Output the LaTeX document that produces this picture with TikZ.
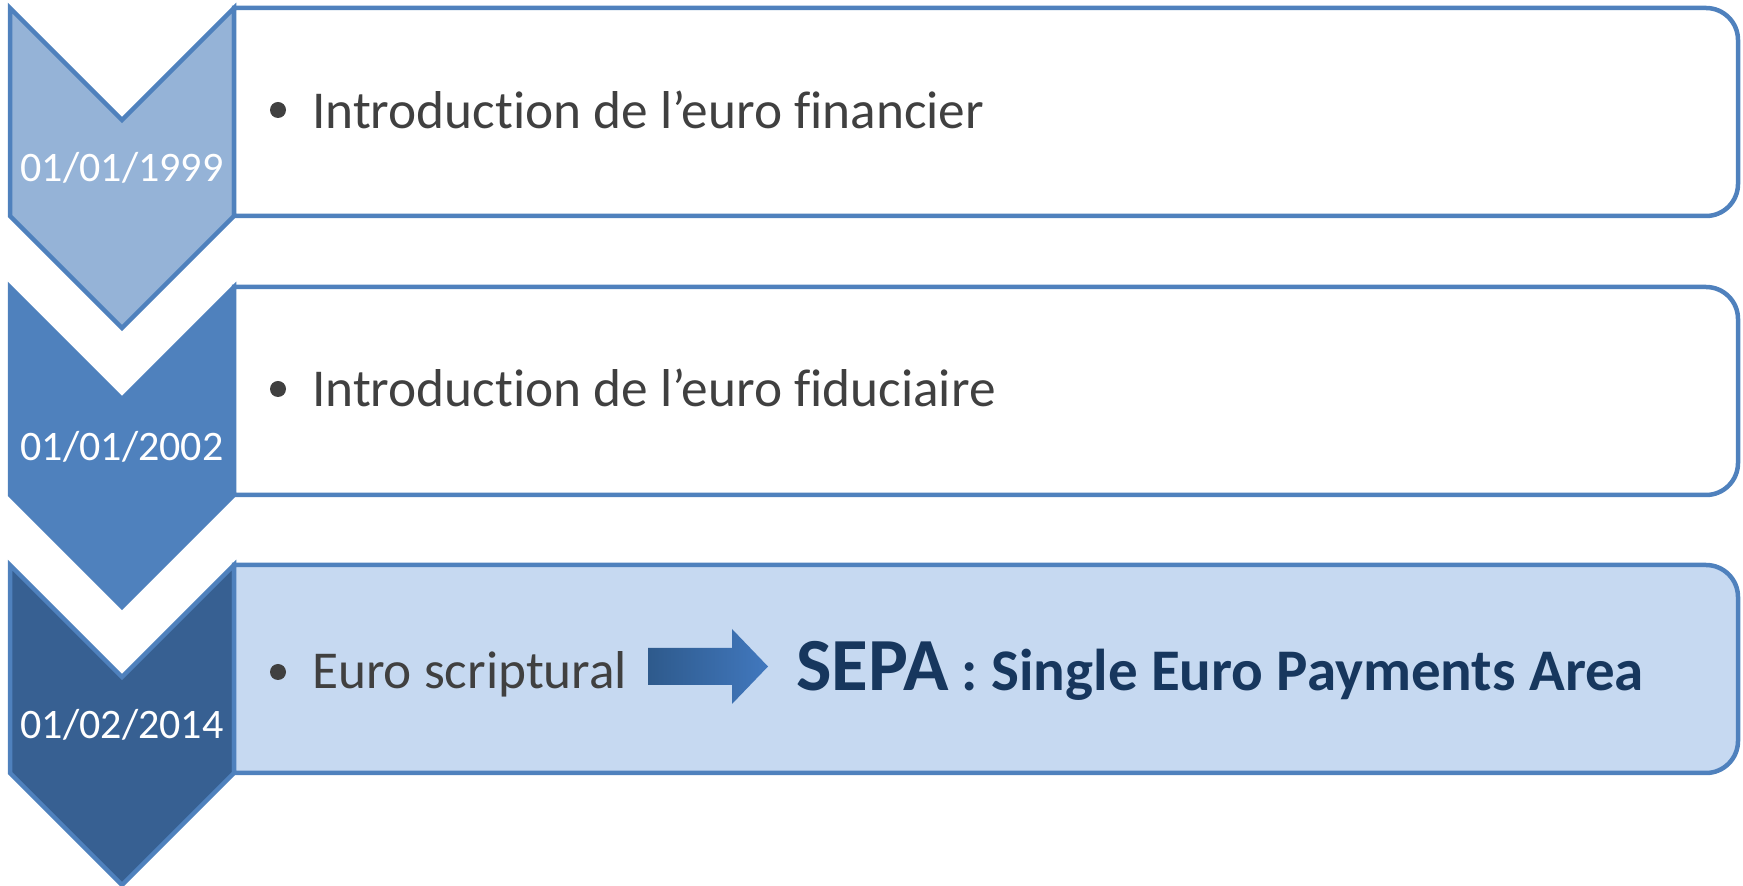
\documentclass[tikz,border=0pt]{standalone}
\usepackage{fontspec}
\setmainfont{Carlito}[Ligatures={TeX,NoCommon}]
\definecolor{bord}{HTML}{4F81BD}
\definecolor{chevA}{HTML}{95B3D7}
\definecolor{chevB}{HTML}{4F81BD}
\definecolor{chevC}{HTML}{376092}
\definecolor{boxC}{HTML}{C6D9F1}
\definecolor{txt}{HTML}{404040}
\definecolor{navy}{HTML}{17375E}
\definecolor{arrL}{HTML}{2E5A8C}
\definecolor{arrR}{HTML}{4178BE}
\begin{document}
\begin{tikzpicture}[x=1pt,y=1pt,line join=miter,
  chev/.style={draw=bord,line width=4.5pt},
  tbox/.style={draw=bord,line width=4.5pt},
  datelbl/.style={inner sep=0pt,text=white,font=\fontsize{42}{50}\selectfont,anchor=base},
  bul/.style={circle,fill=txt,inner sep=0pt,minimum size=16pt},
  itemtxt/.style={inner sep=0pt,text=txt,font=\fontsize{53.3}{62}\selectfont,anchor=base west}]
\useasboundingbox (0,0) rectangle (1743,886);
% row 1
\path[chev,fill=chevA] (10,878) -- (122,766) -- (234,878) -- (234,670) -- (122,558) -- (10,670) -- cycle;
\path[tbox,fill=white] (234,878) -- (1706,878) arc[start angle=90,end angle=0,radius=32] -- (1738,702) arc[start angle=0,end angle=-90,radius=32] -- (234,670) -- cycle;
\node[datelbl] (d1) at (122,704) {01/01/1999};
\node[bul] (b1) at (278,776) {};
\node[itemtxt] (t1) at (312,757) {Introduction de l’euro financier};
% row 2
\path[chev,fill=chevB] (10,599) -- (122,487) -- (234,599) -- (234,391) -- (122,279) -- (10,391) -- cycle;
\path[tbox,fill=white] (234,599) -- (1706,599) arc[start angle=90,end angle=0,radius=32] -- (1738,423) arc[start angle=0,end angle=-90,radius=32] -- (234,391) -- cycle;
\node[datelbl] (d2) at (122,425) {01/01/2002};
\node[bul] (b2) at (278,497) {};
\node[itemtxt] (t2) at (312,479) {Introduction de l’euro fiduciaire};
% row 3
\path[chev,fill=chevC] (10,321) -- (122,209) -- (234,321) -- (234,113) -- (122,1) -- (10,113) -- cycle;
\path[tbox,fill=boxC] (234,321) -- (1706,321) arc[start angle=90,end angle=0,radius=32] -- (1738,145) arc[start angle=0,end angle=-90,radius=32] -- (234,113) -- cycle;
\node[datelbl] (d3) at (122,147) {01/02/2014};
\node[bul] (b3) at (278,214) {};
\node[itemtxt] (t3) at (312,197) {Euro scriptural};
\shade[left color=arrL,right color=arrR] (648,238) -- (732,238) -- (732,257) -- (768,219.5) -- (732,182) -- (732,201) -- (648,201) -- cycle;
\node[inner sep=0pt,text=navy,anchor=base west] (sepa) at (796,195) {{\fontsize{75}{85}\selectfont\bfseries SEPA}{\fontsize{59}{69}\selectfont\bfseries{} : Single Euro Payments Area}};
\end{tikzpicture}
\end{document}
